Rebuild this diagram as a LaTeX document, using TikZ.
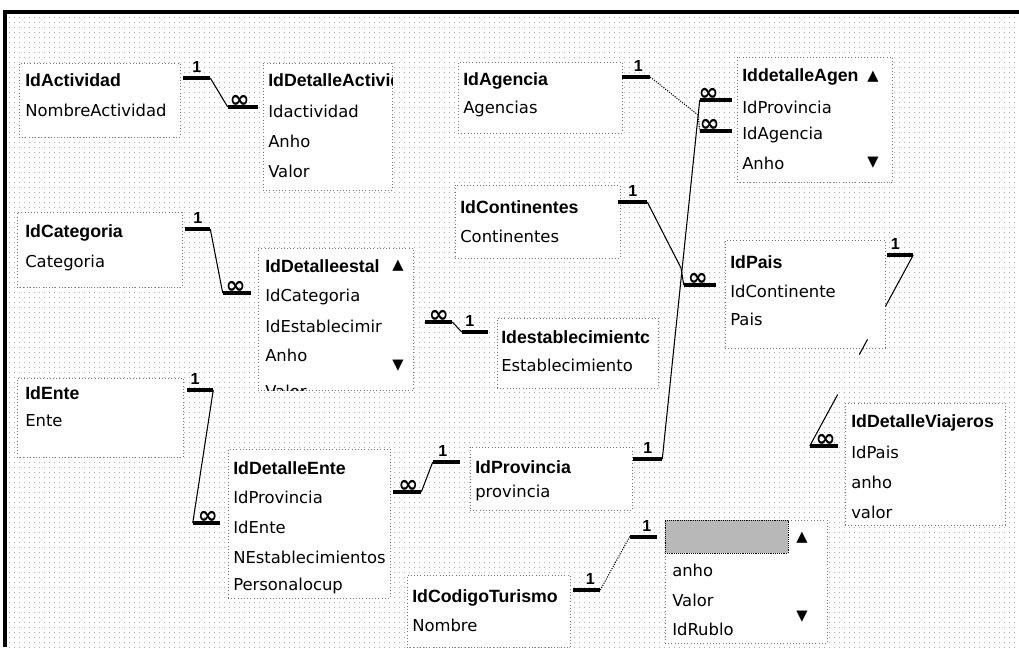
\documentclass[tikz,border=0pt]{standalone}
\usepackage{fontspec}
\setmainfont{DejaVu Sans}
\newfontfamily\clavefont{Liberation Sans}
\usetikzlibrary{fit,patterns.meta}

\begin{document}
\begin{tikzpicture}[
    x=0.75pt, y=-0.75pt,
    tabla/.style={draw=black!55, dotted, fill=white, inner sep=0pt},
    campo/.style={anchor=west, inner sep=0pt, font=\fontsize{12.3}{14}\selectfont},
    clave/.style={anchor=west, inner sep=0pt, font=\clavefont\bfseries\fontsize{13.3}{15}\selectfont},
    flecha/.style={inner sep=0pt, font=\fontsize{11}{11}\selectfont},
    barra/.style={line width=3pt},
    enlace/.style={line width=0.8pt},
    uno/.style={midway, above=1.5pt, inner sep=1pt, font=\clavefont\bfseries\fontsize{12}{12}\selectfont},
    muchos/.style={midway, above=-2.5pt, inner sep=1pt, font=\bfseries\fontsize{18}{18}\selectfont},
  ]
  \useasboundingbox (0,0) rectangle (1019,647);

  \fill[pattern={Dots[distance=4pt, radius=0.35pt]}, pattern color=black!55] (7,14) rectangle (1019,647);
  \draw[line width=3pt] (5,647) -- (5,12) -- (1019,12);

  % tablas
  \node[tabla, fit={(19,63) (180,137)}] (tAct) {};
  \node[tabla, fit={(263,63) (392,190)}] (tDAct) {};
  \node[tabla, fit={(458,62) (622,133)}] (tAge) {};
  \node[tabla, fit={(737,57) (892,182)}] (tDAge) {};
  \node[tabla, fit={(455,185) (620,258)}] (tCon) {};
  \node[tabla, fit={(725,240) (885,348)}] (tPais) {};
  \node[tabla, fit={(17,212) (182,287)}] (tCat) {};
  \node[tabla, fit={(258,248) (413,390)}] (tDEst) {};
  \node[tabla, fit={(497,318) (658,388)}] (tEst) {};
  \node[tabla, fit={(17,378) (183,457)}] (tEnte) {};
  \node[tabla, fit={(228,449) (390,598)}] (tDEnte) {};
  \node[tabla, fit={(470,447) (632,510)}] (tProv) {};
  \node[tabla, fit={(407,575) (570,647)}] (tTur) {};
  \node[tabla, fit={(665,520) (827,643)}] (tRub) {};
  \node[tabla, fit={(845,403) (1005,525)}] (tViaj) {};
  \node[fit={(665,520) (788,553)}, inner sep=0pt, draw, densely dotted, fill=black!28] (tRubH) {};

  % campos
  \node[clave] (act1) at (25,80) {IdActividad};
  \node[campo] (act2) at (25,110) {NombreActividad};

  \begin{scope}
    \clip (263,63) rectangle (392,190);
    \node[clave] (dact1) at (268,80) {IdDetalleActivida};
    \node[campo] (dact2) at (268,111) {Idactividad};
    \node[campo] (dact3) at (268,141) {Anho};
    \node[campo] (dact4) at (268,171) {Valor};
  \end{scope}

  \node[clave] (age1) at (463,81) {IdAgencia};
  \node[campo] (age2) at (463,109) {Agencias};

  \node[clave] (dage1) at (742,77) {IddetalleAgen};
  \node[campo] (dage2) at (742,107) {IdProvincia};
  \node[campo] (dage3) at (742,135) {IdAgencia};
  \node[campo] (dage4) at (742,163) {Anho};
  \node[flecha] (dageUp) at (873,77) {▲};
  \node[flecha] (dageDn) at (873,163) {▼};

  \node[clave] (con1) at (460,207) {IdContinentes};
  \node[campo] (con2) at (460,236) {Continentes};

  \node[clave] (pais1) at (730,262) {IdPais};
  \node[campo] (pais2) at (730,291) {IdContinente};
  \node[campo] (pais3) at (730,319) {Pais};

  \node[clave] (cat1) at (25,233) {IdCategoria};
  \node[campo] (cat2) at (25,263) {Categoria};

  \begin{scope}
    \clip (258,248) rectangle (413,390);
    \node[clave] (dest1) at (265,266) {IdDetalleestal};
    \node[campo] (dest2) at (265,297) {IdCategoria};
    \node[campo] (dest3) at (265,326) {IdEstablecimir};
    \node[campo] (dest4) at (265,355) {Anho};
    \node[campo] (dest5) at (265,391) {Valor};
  \end{scope}
  \node[flecha] (destUp) at (398,266) {▲};
  \node[flecha] (destDn) at (398,366) {▼};

  \node[clave] (est1) at (501,337) {Idestablecimientc};
  \node[campo] (est2) at (501,365) {Establecimiento};

  \node[clave] (ente1) at (25,393) {IdEnte};
  \node[campo] (ente2) at (25,421) {Ente};

  \begin{scope}
    \clip (228,449) rectangle (390,598);
    \node[clave] (dente1) at (233,468) {IdDetalleEnte};
    \node[campo] (dente2) at (233,497) {IdProvincia};
    \node[campo] (dente3) at (233,527) {IdEnte};
    \node[campo] (dente4) at (233,557) {NEstablecimientos};
    \node[campo] (dente5) at (233,586) {Personalocup};
  \end{scope}

  \node[clave] (prov1) at (475,467) {IdProvincia};
  \node[campo] (prov2) at (475,493) {provincia};

  \node[clave] (tur1) at (412,598) {IdCodigoTurismo};
  \node[campo] (tur2) at (412,625) {Nombre};

  \begin{scope}
    \clip (665,553) rectangle (827,641);
    \node[campo] (rub1) at (672,570) {anho};
    \node[campo] (rub2) at (672,600) {Valor};
    \node[campo] (rub3) at (672,629) {IdRublo};
  \end{scope}
  \node[flecha] (rubUp) at (802,538) {▲};
  \node[flecha] (rubDn) at (802,617) {▼};

  \node[clave] (viaj1) at (851,423) {IdDetalleViajeros};
  \node[campo] (viaj2) at (851,452) {IdPais};
  \node[campo] (viaj3) at (851,482) {anho};
  \node[campo] (viaj4) at (851,512) {valor};

  % relaciones
  \draw[barra] (tAct.east |- act1) ++(3,-2) coordinate (r1a) -- ++(27,0) coordinate (r1b) node[uno] {1};
  \draw[barra] (tDAct.west |- dact2) ++(-5,-4) coordinate (r1d) -- ++(-30,0) coordinate (r1c) node[muchos, pos=.6] {∞};
  \draw[enlace] (r1b) -- (r1c);

  \draw[barra] (tCat.east |- cat1) ++(3,-4) coordinate (r2a) -- ++(25,0) coordinate (r2b) node[uno] {1};
  \draw[barra] (tDEst.west |- dest2) ++(-7,-4) coordinate (r2d) -- ++(-28,0) coordinate (r2c) node[muchos, pos=.54] {∞};
  \draw[enlace] (r2b) -- (r2c);

  \draw[barra] (tEnte.east |- ente1) ++(4,-3) coordinate (r3a) -- ++(26,0) coordinate (r3b) node[uno, pos=.3] {1};
  \draw[barra] (tDEnte.west |- dente3) ++(-8,-4) coordinate (r3d) -- ++(-27,0) coordinate (r3c) node[muchos, pos=.44] {∞};
  \draw[enlace] (r3b) -- (r3c);

  \draw[barra] (tDEst.east |- dest3) ++(12,-4) coordinate (r4a) -- ++(27,0) coordinate (r4b) node[muchos] {∞};
  \draw[barra] (tEst.west |- est1) ++(-9,-5) coordinate (r4d) -- ++(-26,0) coordinate (r4c) node[uno, pos=.69] {1};
  \draw[enlace] (r4b) -- (r4c);

  \draw[barra] (tDEnte.east |- dente2) ++(3,-5) coordinate (r5a) -- ++(28,0) coordinate (r5b) node[muchos, pos=.54] {∞};
  \draw[barra] (tProv.west |- prov1) ++(-10,-5) coordinate (r5d) -- ++(-27,0) coordinate (r5c) node[uno, pos=.63] {1};
  \draw[enlace] (r5b) -- (r5c);

  \draw[barra] (tProv.east |- prov1) ++(1,-8) coordinate (r6a) -- ++(29,0) coordinate (r6b) node[uno] {1};
  \draw[barra] (tDAge.west |- dage2) ++(-5,-7) coordinate (r6d) -- ++(-32,0) coordinate (r6c) node[muchos, pos=.72] {∞};
  \draw[enlace] (r6b) -- (r6c);

  \draw[barra] (tAge.east |- age1) ++(0,-4) coordinate (r7a) -- ++(28,0) coordinate (r7b) node[uno, pos=.57] {1};
  \draw[barra] (tDAge.west |- dage3) ++(-5,-4) coordinate (r7d) -- ++(-32,0) coordinate (r7c) node[muchos, pos=.69] {∞};
  \draw[enlace, densely dotted] (r7b) -- (698,115) -- (r7c);

  \draw[barra] (tCon.east |- con1) ++(-2,-5) coordinate (r8a) -- ++(29,0) coordinate (r8b) node[uno] {1};
  \draw[barra] (tPais.west |- pais2) ++(-9,-6) coordinate (r8d) -- ++(-32,0) coordinate (r8c) node[muchos, pos=.56] {∞};
  \draw[enlace] (r8b) -- (681,268) -- (r8c);

  \draw[barra] (tPais.east |- pais1) ++(2,-7) coordinate (r9a) -- ++(26,0) coordinate (r9b) node[uno, pos=.31] {1};
  \draw[barra] (tViaj.west |- viaj2) ++(-7,-6) coordinate (r9d) -- ++(-28,0) coordinate (r9c) node[muchos, pos=.43] {∞};
  \draw[enlace, dash pattern=on 44pt off 28pt on 13pt off 34pt on 50pt] (r9b) -- (r9c);

  \draw[barra] (tTur.east |- tur1) ++(3,-8) coordinate (r10a) -- ++(27,0) coordinate (r10b) node[uno, pos=.63] {1};
  \draw[barra] (tRub.west |- tRubH) ++(-8,0) coordinate (r10d) -- ++(-27,0) coordinate (r10c) node[uno, pos=.37] {1};
  \draw[enlace, densely dotted] (r10b) -- (r10c);
\end{tikzpicture}
\end{document}
